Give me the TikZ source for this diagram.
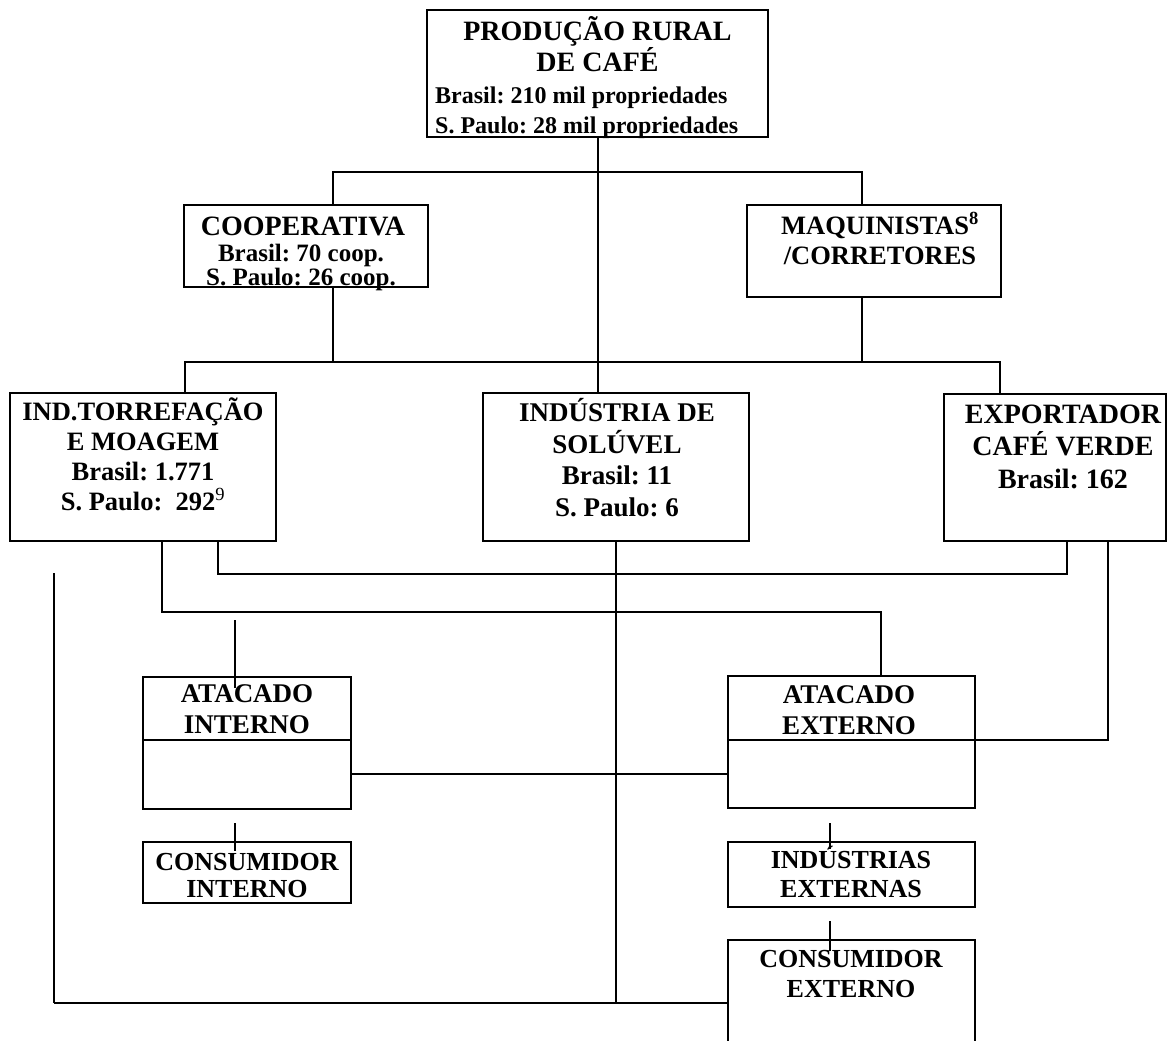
\documentclass[tikz,border=0pt]{standalone}
\usepackage{fontspec}
\setmainfont{Liberation Serif}
\usepackage{tikz}
\usetikzlibrary{calc}
\frenchspacing

\begin{document}
\begin{tikzpicture}[x=1pt,y=-1pt,
		caixa/.style={draw,line width=2pt,inner sep=0pt,outer sep=0pt},
		linha/.style={line width=2pt},
		fina/.style={line width=1.1pt},
		texto/.style={anchor=base,align=center,inner sep=0pt,font=\bfseries\fontsize{27}{31}\selectfont}]
			\useasboundingbox (0,0) rectangle (1168,1041);
			\clip (0,0) rectangle (1168,1041);
			% caixas
			\node[caixa,minimum width=341,minimum height=127] (prod) at (597.5,73.5) {};
			\node[caixa,minimum width=244,minimum height=82] (coop) at (306,246) {};
			\node[caixa,minimum width=254,minimum height=92] (maq) at (874,251) {};
			\node[caixa,minimum width=266,minimum height=148] (ind) at (143,467) {};
			\node[caixa,minimum width=266,minimum height=148] (sol) at (616,467) {};
			\node[caixa,minimum width=222,minimum height=147] (exp) at (1055,467.5) {};
			\node[caixa,minimum width=208,minimum height=132] (ati) at (247,743) {};
			\node[caixa,minimum width=247,minimum height=132] (ate) at (851.5,742) {};
			\node[caixa,minimum width=208,minimum height=61] (coi) at (247,872.5) {};
			\node[caixa,minimum width=247,minimum height=65] (ine) at (851.5,874.5) {};
			\node[caixa,minimum width=247,minimum height=120] (coe) at (851.5,1000) {};
			\draw[linha] (ati.west |- 0,740)-- (ati.east |- 0,740);
			\draw[linha] (ate.west |- 0,740)-- (ate.east |- 0,740);
			% textos (ancorados na linha de base da ultima linha)
			\node[texto,font=\bfseries\fontsize{28}{32}\selectfont] (tprod) at (597.5,72) {PRODUÇÃO RURAL\\DE CAFÉ};
			\node[texto,anchor=base west,align=left,font=\bfseries\fontsize{24}{30}\selectfont] (dprod) at (435,133) {Brasil: 210 mil propriedades\\S. Paulo: 28 mil propriedades};
			\node[texto,font=\bfseries\fontsize{28}{32}\selectfont] (tcoop) at (303,235) {COOPERATIVA};
			\node[texto,font=\bfseries\fontsize{25}{21}\selectfont] (dcoop) at (301,285) {Brasil: 70 coop.\\S. Paulo: 26 coop.};
			\node[texto,font=\bfseries\fontsize{26.5}{30}\selectfont] (tmaq) at (880,264) {MAQUINISTAS\textsuperscript{8}\\/CORRETORES};
			\node[texto,font=\bfseries\fontsize{26.5}{30}\selectfont] (tind) at (143,510) {IND.TORREFAÇÃO\\E MOAGEM\\Brasil: 1.771\\S. Paulo:~ 292\textsuperscript{\mdseries 9}};
			\node[texto,font=\bfseries\fontsize{27}{31.5}\selectfont] (tsol) at (617,516) {INDÚSTRIA DE\\SOLÚVEL\\Brasil: 11\\S. Paulo: 6};
			\node[texto,font=\bfseries\fontsize{28}{32.5}\selectfont] (texp) at (1063,488) {EXPORTADOR\\CAFÉ VERDE\\Brasil: 162};
			\node[texto] (tati) at (247,733) {ATACADO\\INTERNO};
			\node[texto] (tate) at (849,734) {ATACADO\\EXTERNO};
			\node[texto,font=\bfseries\fontsize{26}{27.5}\selectfont] (tcoi) at (247,897.5) {CONSUMIDOR\\INTERNO};
			\node[texto,font=\bfseries\fontsize{26}{29}\selectfont] (tine) at (851,897) {INDÚSTRIAS\\EXTERNAS};
			\node[texto,font=\bfseries\fontsize{26}{30}\selectfont] (tcoe) at (851,997) {CONSUMIDOR\\EXTERNO};
			% pontos das ligacoes
			\coordinate (j1) at (333,172);
			\coordinate (j2) at (862,172);
			\coordinate (r1) at (185,362);
			\coordinate (r2) at (1000,362);
			\coordinate (a1) at (162,612);
			\coordinate (a2) at (881,612);
			\coordinate (b1) at (218,574);
			\coordinate (b2) at (1067,574);
			\coordinate (c1) at (1108,740);
			\coordinate (d1) at (616,1003);
			\coordinate (e1) at (54,573);
			\coordinate (e2) at (54,1003);
			\coordinate (f1) at (0,774);
			\coordinate (g1) at (235,620);
			\coordinate (g2) at (235,688);
			\coordinate (g3) at (235,823);
			\coordinate (g4) at (235,851);
			\coordinate (h1) at (830,823);
			\coordinate (h2) at (830,849);
			\coordinate (h3) at (830,921);
			\coordinate (h4) at (830,951);
			% ligacoes
			\draw[linha] (prod.south)-- (prod.south |- sol.north);
			\draw[linha] (coop.north -| j1)-- (j1)-- (j2)-- (maq.north -| j2);
			\draw[linha] (coop.south -| j1)-- (j1 |- r1);
			\draw[linha] (maq.south -| j2)-- (j2 |- r1);
			\draw[linha] (ind.north -| r1)-- (r1)-- (r2)-- (exp.north -| r2);
			\draw[linha] (ind.south -| a1)-- (a1)-- (a2)-- (ate.north -| a2);
			\draw[linha] (ind.south -| b1)-- (b1)-- (b2)-- (exp.south -| b2);
			\draw[linha] (exp.south -| c1)-- (c1)-- (ate.east |- c1);
			\draw[fina] (sol.south)-- (d1);
			\draw[fina] (e1)-- (e2);
			\draw[linha] (e2)-- (coe.west |- e2);
			\draw[linha] (ati.east |- f1)-- (ate.west |- f1);
			\draw[fina] (g1)-- (g2);
			\draw[fina] (g3)-- (g4);
			\draw[fina] (h1)-- (h2);
			\draw[fina] (h3)-- (h4);
		\end{tikzpicture}
\end{document}
